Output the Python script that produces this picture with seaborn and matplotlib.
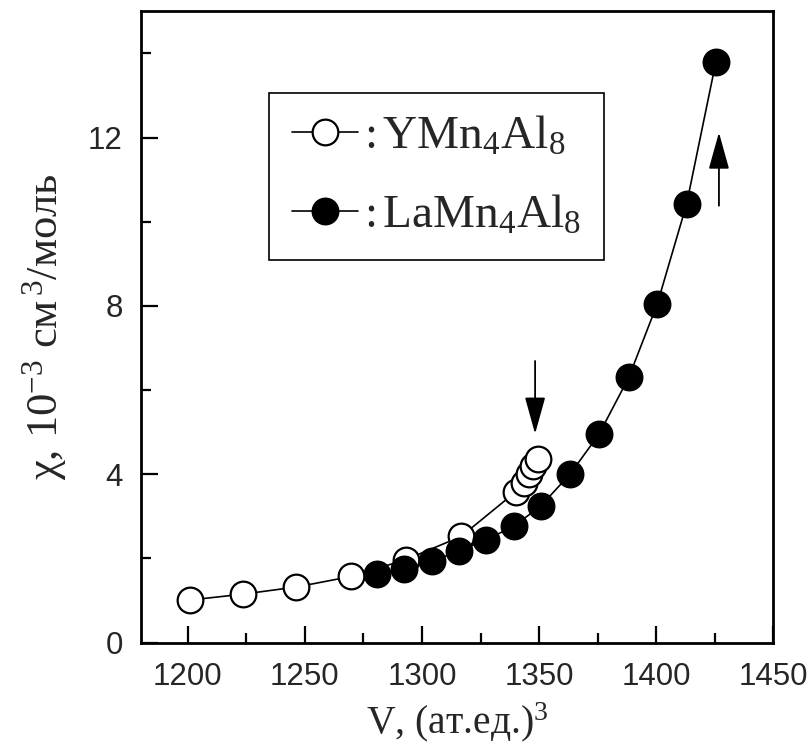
import matplotlib
matplotlib.use("Agg")
import matplotlib.pyplot as plt
from matplotlib.ticker import MultipleLocator
import seaborn as sns

# YMn4Al8: susceptibility vs. cell volume
v_y = [1201.0, 1223.6, 1246.4, 1269.8, 1293.1, 1316.7, 1340.0, 1343.4, 1345.5, 1347.6, 1349.7]
chi_y = [1.01, 1.15, 1.32, 1.57, 1.97, 2.52, 3.58, 3.80, 4.00, 4.19, 4.37]

# LaMn4Al8: susceptibility vs. cell volume
v_la = [1281.0, 1292.5, 1304.1, 1315.7, 1327.2, 1339.2, 1350.8, 1363.2, 1375.6,
        1388.3, 1400.5, 1413.0, 1425.5]
chi_la = [1.62, 1.75, 1.93, 2.17, 2.44, 2.76, 3.25, 4.00, 4.95,
          6.30, 8.05, 10.42, 13.80]

label_y = r":$\,$YMn$_4$Al$_8$"
label_la = r":$\,$LaMn$_4$Al$_8$"

sns.set_style("ticks")
plt.rcParams["font.family"] = ["Liberation Sans", "DejaVu Sans"]
plt.rcParams["mathtext.fontset"] = "custom"
plt.rcParams["mathtext.rm"] = "Liberation Serif"
plt.rcParams["mathtext.it"] = "Liberation Serif:italic"
plt.rcParams["mathtext.bf"] = "Liberation Serif:bold"

fig = plt.figure(figsize=(8.12, 7.46), dpi=100)
ax = fig.add_axes([0.1736, 0.1387, 0.7787, 0.8462])

marker_kw = dict(marker="o", markersize=18.5, markeredgewidth=1.6,
                 markeredgecolor="black", linewidth=1.2, color="black")

sns.lineplot(x=v_y, y=chi_y, ax=ax, sort=False, markerfacecolor="white",
             label=label_y, zorder=3, **marker_kw)
sns.lineplot(x=v_la, y=chi_la, ax=ax, sort=False, markerfacecolor="black",
             label=label_la, zorder=4, **marker_kw)

ax.set_xlim(1180, 1450)
ax.set_ylim(0, 15)
ax.xaxis.set_major_locator(MultipleLocator(50))
ax.xaxis.set_minor_locator(MultipleLocator(25))
ax.yaxis.set_major_locator(MultipleLocator(4))
ax.yaxis.set_minor_locator(MultipleLocator(2))

ax.tick_params(which="both", direction="in", top=False, right=False,
               width=1.6, color="black")
ax.tick_params(which="major", length=12)
ax.tick_params(which="minor", length=7)
ax.tick_params(axis="x", which="major", labelsize=22.5, pad=14)
ax.tick_params(axis="y", which="major", labelsize=22.5, pad=13)

for side in ["left", "right", "top", "bottom"]:
    ax.spines[side].set_visible(True)
    ax.spines[side].set_linewidth(2.0)
    ax.spines[side].set_color("black")

serif = ["Liberation Serif", "DejaVu Serif"]
ax.set_xlabel(r"V, (ат.ед.)$^3$", fontsize=28.5, fontfamily=serif, labelpad=6)
ax.set_ylabel(r"χ, 10$^{-3}$ см$^{\,3}$/моль", fontsize=32, fontfamily=serif,
              labelpad=14)

# arrows marking the end points of each series
arrow_kw = dict(arrowstyle="-|>,head_length=1.15,head_width=0.32",
                mutation_scale=20, lw=1.3, color="black",
                shrinkA=0, shrinkB=0)
ax.annotate("", xy=(1348.3, 4.96), xytext=(1348.3, 6.69), arrowprops=arrow_kw)
ax.annotate("", xy=(1426.8, 12.12), xytext=(1426.8, 10.38), arrowprops=arrow_kw)

leg = ax.legend(loc="upper left", bbox_to_anchor=(0.203, 0.871),
                borderaxespad=0, frameon=True, fancybox=False,
                prop={"family": serif, "size": 34}, handlelength=1.4,
                handletextpad=0.12, labelspacing=0.75, borderpad=0.48)
frame = leg.get_frame()
frame.set_edgecolor("black")
frame.set_linewidth(1.2)
frame.set_facecolor("white")
frame.set_alpha(1)

fig.savefig("out.png", dpi=100)
